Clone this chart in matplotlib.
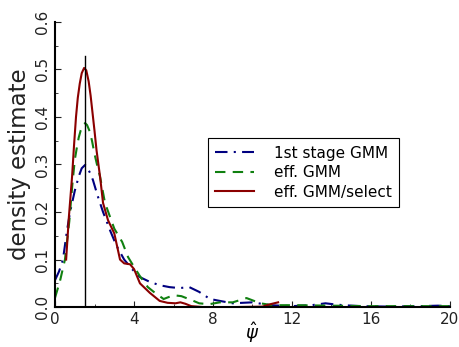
import matplotlib as mpl
mpl.use('Agg')
import matplotlib.pyplot as plt
from matplotlib.ticker import MultipleLocator

# 1st stage GMM (dash-dot, navy)
x_first = [0, 0.2, 0.4, 0.6, 0.76, 1.0, 1.2, 1.35, 1.52, 1.65, 1.8, 1.92, 2.15, 2.43, 2.8, 3.1, 3.5,
           3.9, 4.3, 4.8, 5.3, 5.8, 6.3, 6.8, 7.3, 7.85, 8.35, 9.0, 10.0, 10.9, 12.0, 13.0, 13.7,
           14.1, 14.6, 15.5, 17, 18.5, 19.4, 20]
y_first = [0.057, 0.075, 0.10, 0.16, 0.2, 0.245, 0.275, 0.292, 0.299, 0.292, 0.28, 0.267, 0.235, 0.2,
           0.16, 0.13, 0.10, 0.08, 0.063, 0.053, 0.046, 0.042, 0.04, 0.042, 0.032, 0.017, 0.013,
           0.008, 0.01, 0.004, 0.002, 0.004, 0.008, 0.006, 0.004, 0.002, 0.001, 0.002, 0.003, 0.002]

# eff. GMM (dashed, green)
x_eff = [0, 0.25, 0.5, 0.72, 0.88, 1.0, 1.1, 1.2, 1.3, 1.42, 1.52, 1.62, 1.75, 1.87, 2.0, 2.15, 2.28,
         2.53, 3.0, 3.4, 3.7, 3.95, 4.3, 4.7, 5.0, 5.5, 6.0, 6.4, 6.9, 7.3, 7.8, 8.35, 9.0, 9.7, 10.4,
         11.0, 12.2, 14, 16, 18, 20]
y_eff = [0.02, 0.055, 0.10, 0.18, 0.26, 0.31, 0.335, 0.357, 0.372, 0.383, 0.387, 0.383, 0.37, 0.35,
         0.322, 0.295, 0.274, 0.219, 0.165, 0.137, 0.105, 0.088, 0.065, 0.042, 0.032, 0.017, 0.025,
         0.023, 0.015, 0.008, 0.006, 0.01, 0.01, 0.019, 0.008, 0.004, 0.004, 0.003, 0.002, 0.002,
         0.002]

# eff. GMM/select (solid, dark red)
x_sel = [0.56, 0.7, 0.86, 0.96, 1.06, 1.15, 1.25, 1.35, 1.47, 1.58, 1.7, 1.8, 1.92, 2.0, 2.1, 2.28,
         2.43, 2.68, 3.0, 3.29, 3.5, 3.8, 4.0, 4.3, 4.8, 5.3, 5.7, 6.1, 6.35, 6.6, 6.9, 7.5, 9, 10.5,
         10.9, 11.3]
y_sel = [0.10, 0.19, 0.274, 0.34, 0.40, 0.44, 0.47, 0.492, 0.503, 0.498, 0.475, 0.445, 0.40, 0.37,
         0.33, 0.274, 0.219, 0.183, 0.155, 0.10, 0.092, 0.09, 0.08, 0.05, 0.03, 0.013, 0.009, 0.008,
         0.01, 0.007, 0.002, 0.0, 0.0, 0.001, 0.006, 0.01]

psi_true = 1.52
line_top = 0.528

fig = plt.figure(figsize=(4.59, 3.47), dpi=100)
ax = fig.add_axes([0.120, 0.115, 0.860, 0.822])

ax.plot(x_first, y_first, color='#000080', linewidth=1.5, dashes=(6, 3, 1, 3), label='1st stage GMM')
ax.plot(x_eff, y_eff, color='#108010', linewidth=1.5, dashes=(5, 3.5), label='eff. GMM')
ax.plot(x_sel, y_sel, color='#8b0000', linewidth=1.5, label='eff. GMM/select')
ax.plot([psi_true, psi_true], [0, line_top], color='black', linewidth=1.0)

ax.set_xlim(0, 20)
ax.set_ylim(0, 0.6)
ax.xaxis.set_major_locator(MultipleLocator(4))
ax.xaxis.set_minor_locator(MultipleLocator(2))
ax.yaxis.set_major_locator(MultipleLocator(0.1))
ax.yaxis.set_minor_locator(MultipleLocator(0.05))
ax.yaxis.set_major_formatter(mpl.ticker.FormatStrFormatter('%.1f'))
ax.tick_params(which='both', direction='in', labelsize=11, colors='#222222')
ax.tick_params(which='major', length=4)
ax.tick_params(which='minor', length=2.5)
for lab in ax.get_yticklabels():
    lab.set_rotation(90)
    lab.set_va('center')

ax.spines['top'].set_visible(False)
ax.spines['right'].set_visible(False)
ax.spines['left'].set_linewidth(1.5)
ax.spines['bottom'].set_linewidth(1.5)

ax.set_xlabel(r'$\hat{\psi}$', size=13, labelpad=-5)
ax.set_ylabel('density estimate', size=16.5, color='#222222', labelpad=3)

leg = ax.legend(loc='upper left', bbox_to_anchor=(0.387, 0.593), borderaxespad=0, fancybox=False,
                framealpha=1, edgecolor='black', fontsize=11, handlelength=2.5, handletextpad=1.3,
                borderpad=0.5, labelspacing=0.3)
leg.get_frame().set_linewidth(0.8)

plt.savefig('out.png', dpi=100)
